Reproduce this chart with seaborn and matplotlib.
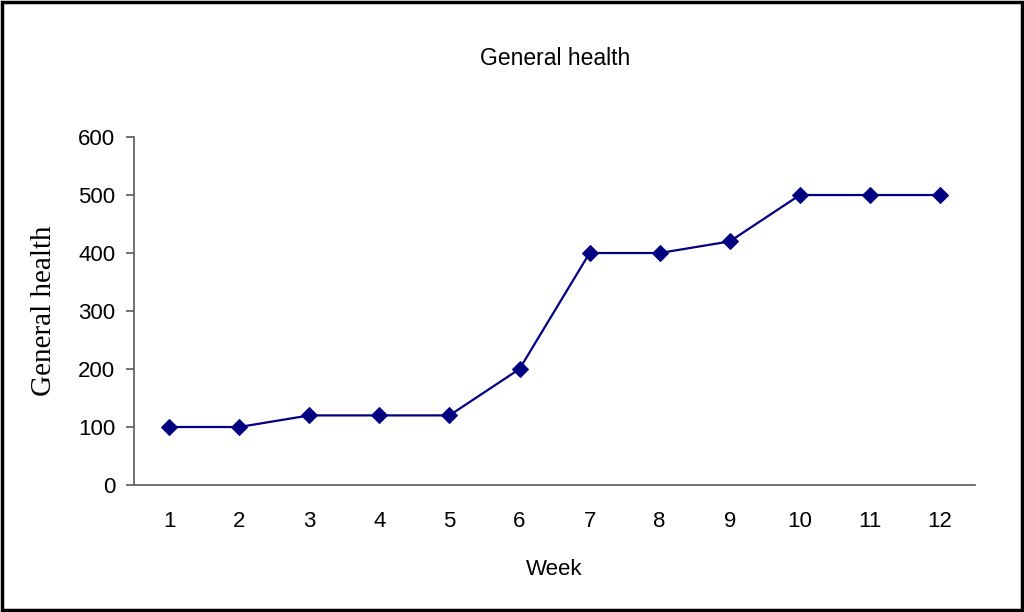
import pandas as pd
import seaborn as sns
import matplotlib.pyplot as plt
from matplotlib.patches import Rectangle
from matplotlib.ticker import MultipleLocator

weeks = [1, 2, 3, 4, 5, 6, 7, 8, 9, 10, 11, 12]
general_health = [100, 100, 120, 120, 120, 200, 400, 400, 420, 500, 500, 500]
y_ticks = [0, 100, 200, 300, 400, 500, 600]

df = pd.DataFrame({"Week": weeks, "General health": general_health})

sns.set_style("white")
plt.rcParams['font.family'] = ['Liberation Sans', 'DejaVu Sans']
plt.rcParams['text.color'] = 'black'
plt.rcParams['axes.labelcolor'] = 'black'
plt.rcParams['xtick.labelcolor'] = 'black'
plt.rcParams['ytick.labelcolor'] = 'black'

fig = plt.figure(figsize=(10.24, 6.12), dpi=100)
ax = fig.add_axes([0.1309, 0.2075, 0.8213, 0.5686])

sns.lineplot(data=df, x="Week", y="General health", ax=ax, color="#000080",
             linewidth=1.6, marker="D", markersize=8.5, markeredgecolor="#000080")

ax.set_xlim(0.5, 12.5)
ax.set_ylim(0, 600)
ax.set_yticks(y_ticks)
ax.set_xticks(weeks)
ax.set_xticklabels([str(w) for w in weeks])
ax.xaxis.set_minor_locator(MultipleLocator(1, offset=0.5))

spine_col = "#5a5a5a"
for s in ["top", "right"]:
    ax.spines[s].set_visible(False)
for s in ["left", "bottom"]:
    ax.spines[s].set_color(spine_col)
    ax.spines[s].set_linewidth(1.2)

ax.tick_params(axis="x", which="major", length=0, pad=19, labelsize=16)
ax.tick_params(axis="x", which="minor", length=5.5, width=1.2, color=spine_col, direction="out")
ax.tick_params(axis="y", which="major", length=5.5, width=1.2, color=spine_col, direction="out",
               pad=8, labelsize=16, left=True)

ax.set_xlabel("Week", fontsize=16, labelpad=19)
ax.set_ylabel("General health", fontsize=21, family=["Liberation Serif", "DejaVu Serif"], labelpad=15)
fig.text(0.5420, 0.904, "General health", ha="center", va="center", fontsize=16.5)

fig.patches.append(Rectangle((0.0015, 0.004), 0.997, 0.993, transform=fig.transFigure,
                             fill=False, edgecolor="black", linewidth=2.5))

plt.savefig("out.png", dpi=100)
